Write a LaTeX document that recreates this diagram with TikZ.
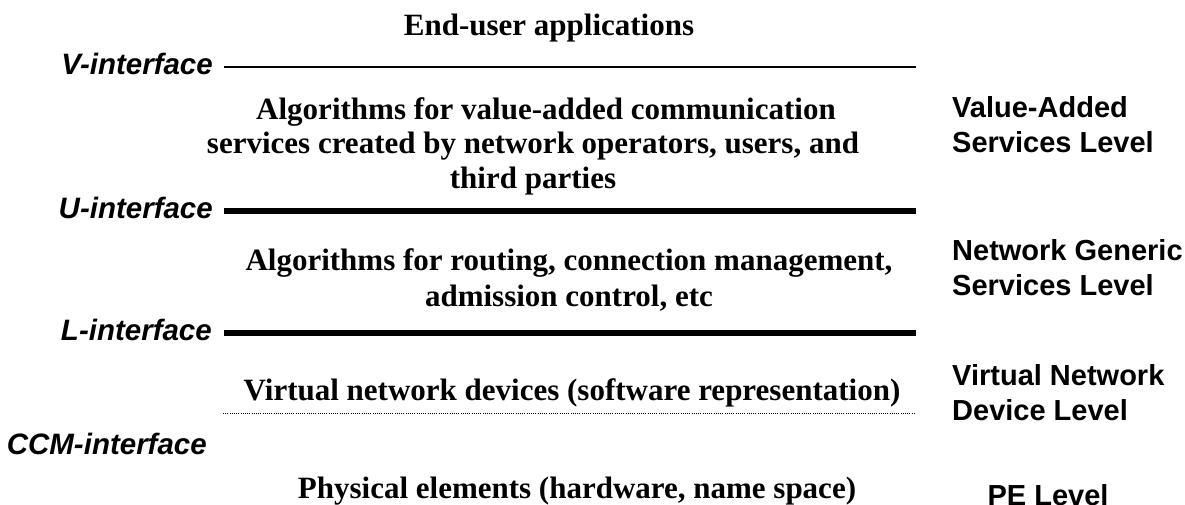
\documentclass[tikz,border=0pt]{standalone}
\usepackage{fontspec}
\setmainfont{Liberation Serif}
\setsansfont{Liberation Sans}
\begin{document}
\begin{tikzpicture}[x=1pt,y=-1pt,
  layertext/.style={font=\bfseries\fontsize{31}{37}\selectfont, anchor=base, inner sep=0pt},
  iface/.style={font=\sffamily\bfseries\itshape\fontsize{29.5}{34}\selectfont, anchor=base east, inner sep=0pt},
  leveltext/.style={font=\sffamily\bfseries\fontsize{29}{34}\selectfont, anchor=base west, inner sep=0pt},
  thinrule/.style={line width=2pt},
  thickrule/.style={line width=6pt},
  dotrule/.style={line width=1pt, dash pattern=on 1pt off 1.2pt}]
\useasboundingbox (0,0) rectangle (1185,504);

% layer contents
\node[layertext] (enduser) at (549,35) {End-user applications};
\node[layertext] (vas1) at (546,119) {Algorithms for value-added communication};
\node[layertext] (vas2) at (533,153) {services created by network operators, users, and};
\node[layertext] (vas3) at (533,188) {third parties};
\node[layertext] (ngs1) at (569,270) {Algorithms for routing, connection management,};
\node[layertext] (ngs2) at (569,306) {admission control, etc};
\node[layertext] (vnd) at (572,400) {Virtual network devices (software representation)};
\node[layertext] (phys) at (577,498) {Physical elements (hardware, name space)};

% interface labels
\node[iface] (vif) at (213,74) {V-interface};
\node[iface] (uif) at (213,218) {U-interface};
\node[iface] (lif) at (212,340) {L-interface};
\node[iface] (ccmif) at (207,454) {CCM-interface};

% level names
\node[leveltext] (val1) at (952,117) {Value-Added};
\node[leveltext] (val2) at (952,152) {Services Level};
\node[leveltext] (ngl1) at (952,260) {Network Generic};
\node[leveltext] (ngl2) at (952,295) {Services Level};
\node[leveltext] (vnl1) at (952,385) {Virtual Network};
\node[leveltext] (vnl2) at (952,420) {Device Level};
\node[leveltext, anchor=base] (pel) at (1048,505) {PE Level};

% interface rules
\coordinate (vA) at (224,67);  \coordinate (vB) at (916,67);
\coordinate (uA) at (224,211); \coordinate (uB) at (916,211);
\coordinate (lA) at (224,333); \coordinate (lB) at (916,333);
\coordinate (cA) at (223,413); \coordinate (cB) at (916,413);
\draw[thinrule] (vA) -- (vB);
\draw[thickrule] (uA) -- (uB);
\draw[thickrule] (lA) -- (lB);
\draw[dotrule] (cA) -- (cB);
\end{tikzpicture}
\end{document}
